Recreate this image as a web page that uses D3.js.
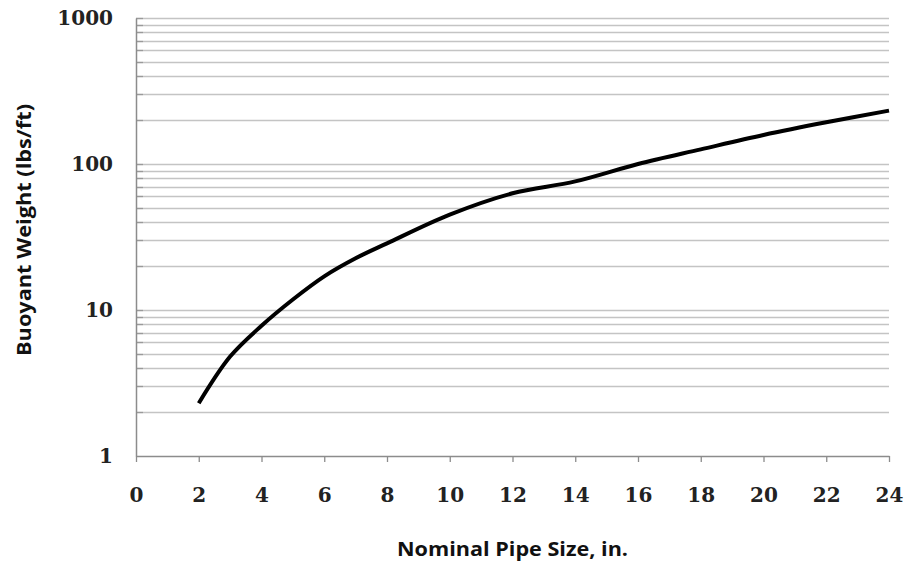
<!DOCTYPE html>
<html>
<head>
<meta charset="utf-8">
<script src="https://cdn.jsdelivr.net/npm/d3@7"></script>
<style>
  body { margin: 0; background: #fff; }
  .tick text { font-family: "DejaVu Serif", serif; font-weight: bold; fill: #222; }
  .title { font-family: "Open Sans", sans-serif; font-weight: bold; fill: #111; }
</style>
</head>
<body>
<script>
// data
var pipeSize = [2, 3, 4, 5, 6, 7, 8, 10, 12, 14, 16, 18, 20, 22, 24];
var weight   = [2.3, 4.8, 7.8, 11.8, 17, 22.6, 28.6, 45, 63, 76, 100, 126, 158, 193, 232];
var xTicks = [0, 2, 4, 6, 8, 10, 12, 14, 16, 18, 20, 22, 24];
var yTicks = [1, 10, 100, 1000];

var W = 905, H = 565;
var margin = {top: 18, right: 16, bottom: 109, left: 136};
var w = W - margin.left - margin.right;
var h = H - margin.top - margin.bottom;

var svg = d3.select("body").append("svg")
            .attr("width", W)
            .attr("height", H);

var g = svg.append("g")
           .attr("transform", "translate(" + margin.left + "," + margin.top + ")");

var xScale = d3.scaleLinear().domain([0, 24]).range([0, w]);
var yScale = d3.scaleLog().domain([1, 1000]).range([h, 0]);

// minor + major gridlines (2..9 in each decade, plus the decades)
var gridVals = [];
for (var d = 1; d < 1000; d *= 10) {
    for (var k = 2; k <= 10; k++) gridVals.push(d * k);
}

g.selectAll(".grid")
 .data(gridVals)
 .enter()
 .append("line")
 .attr("class", "grid")
 .attr("x1", 0)
 .attr("x2", w)
 .attr("y1", function(v){ return Math.round(yScale(v)) + 0.5; })
 .attr("y2", function(v){ return Math.round(yScale(v)) + 0.5; })
 .attr("stroke", "#c4c4c4")
 .attr("stroke-width", 1.3);

// little inside ticks on the y axis
g.selectAll(".ytk")
 .data(gridVals)
 .enter()
 .append("line")
 .attr("x1", 0)
 .attr("x2", 7)
 .attr("y1", function(v){ return Math.round(yScale(v)) + 0.5; })
 .attr("y2", function(v){ return Math.round(yScale(v)) + 0.5; })
 .attr("stroke", "#9a9a9a")
 .attr("stroke-width", 1.3);

// y axis
var yAxis = g.append("g")
    .call(d3.axisLeft(yScale).tickValues(yTicks).tickFormat(d3.format("d")).tickSize(0).tickPadding(23));
yAxis.select(".domain").attr("stroke", "#8c8c8c").attr("stroke-width", 1.5);
yAxis.selectAll(".tick text").style("font-size", "20px");

// x axis
var xAxis = g.append("g")
    .attr("transform", "translate(0," + h + ")")
    .call(d3.axisBottom(xScale).tickValues(xTicks).tickSize(6).tickSizeOuter(0).tickPadding(26));
xAxis.select(".domain").attr("stroke", "#8c8c8c").attr("stroke-width", 1.5);
xAxis.selectAll(".tick line").attr("stroke", "#8c8c8c").attr("stroke-width", 1.3);
xAxis.selectAll(".tick text").style("font-size", "20px");

// curve
var line = d3.line()
    .x(function(d, i){ return xScale(pipeSize[i]); })
    .y(function(d){ return yScale(d); })
    .curve(d3.curveCatmullRom.alpha(0.5));

g.append("path")
 .datum(weight)
 .attr("d", line)
 .attr("fill", "none")
 .attr("stroke", "#000")
 .attr("stroke-width", 4);

// axis titles
svg.append("text")
   .attr("class", "title")
   .attr("x", margin.left + w / 2)
   .attr("y", 556)
   .attr("text-anchor", "middle")
   .attr("textLength", 231)
   .attr("lengthAdjust", "spacingAndGlyphs")
   .style("font-size", "20px")
   .text("Nominal Pipe Size, in.");

svg.append("text")
   .attr("class", "title")
   .attr("transform", "translate(31,230) rotate(-90)")
   .attr("text-anchor", "middle")
   .attr("textLength", 252)
   .attr("lengthAdjust", "spacingAndGlyphs")
   .style("font-size", "20px")
   .text("Buoyant Weight (lbs/ft)");
</script>
</body>
</html>
